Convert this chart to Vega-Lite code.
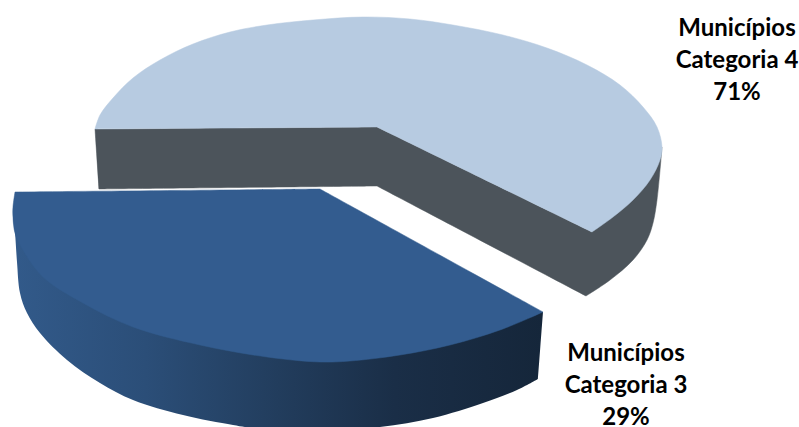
{
"$schema":"https://vega.github.io/schema/vega-lite/v6.json",
"width":799,"height":427,"padding":0,
"autosize":{"type":"none"},
"background":"white",
"config":{"view":{"stroke":null}},
"datasets":{
"side4":[{"i":1,"x":95,"y":129},{"i":2,"x":95,"y":129},{"i":3,"x":95,"y":129},{"i":4,"x":99,"y":189},{"i":5,"x":99,"y":189},{"i":6,"x":99,"y":189},{"i":7,"x":377,"y":186},{"i":8,"x":377,"y":186},{"i":9,"x":377,"y":186},{"i":10,"x":586,"y":296},{"i":11,"x":586,"y":296},{"i":12,"x":586,"y":296},{"i":13,"x":610,"y":280},{"i":14,"x":633,"y":260},{"i":15,"x":647,"y":240},{"i":16,"x":653,"y":223},{"i":17,"x":657,"y":200},{"i":18,"x":662,"y":147},{"i":19,"x":662,"y":147},{"i":20,"x":662,"y":147},{"i":21,"x":592,"y":232},{"i":22,"x":592,"y":232},{"i":23,"x":592,"y":232},{"i":24,"x":377,"y":127},{"i":25,"x":377,"y":127},{"i":26,"x":377,"y":127}],
"top4":[{"i":1,"x":95,"y":129},{"i":2,"x":95,"y":129},{"i":3,"x":95,"y":129},{"i":4,"x":100,"y":115},{"i":5,"x":113,"y":98},{"i":6,"x":133,"y":78},{"i":7,"x":160,"y":60},{"i":8,"x":193,"y":44},{"i":9,"x":230,"y":32},{"i":10,"x":267,"y":25},{"i":11,"x":313,"y":20},{"i":12,"x":363,"y":17},{"i":13,"x":410,"y":19},{"i":14,"x":453,"y":25},{"i":15,"x":503,"y":35},{"i":16,"x":547,"y":48},{"i":17,"x":587,"y":65},{"i":18,"x":620,"y":85},{"i":19,"x":643,"y":107},{"i":20,"x":657,"y":127},{"i":21,"x":662,"y":147},{"i":22,"x":660,"y":160},{"i":23,"x":650,"y":180},{"i":24,"x":633,"y":200},{"i":25,"x":613,"y":217},{"i":26,"x":592,"y":232},{"i":27,"x":592,"y":232},{"i":28,"x":592,"y":232},{"i":29,"x":377,"y":127},{"i":30,"x":377,"y":127},{"i":31,"x":377,"y":127},{"i":32,"x":95,"y":129},{"i":33,"x":95,"y":129}],
"side3":[{"i":1,"x":13,"y":207},{"i":2,"x":13,"y":207},{"i":3,"x":13,"y":217},{"i":4,"x":15,"y":233},{"i":5,"x":17,"y":262},{"i":6,"x":20,"y":293},{"i":7,"x":27,"y":313},{"i":8,"x":40,"y":333},{"i":9,"x":67,"y":360},{"i":10,"x":100,"y":383},{"i":11,"x":133,"y":400},{"i":12,"x":183,"y":415},{"i":13,"x":233,"y":425},{"i":14,"x":253,"y":428},{"i":15,"x":320,"y":432},{"i":16,"x":380,"y":427},{"i":17,"x":433,"y":418},{"i":18,"x":483,"y":403},{"i":19,"x":517,"y":390},{"i":20,"x":538,"y":379},{"i":21,"x":538,"y":379},{"i":22,"x":538,"y":379},{"i":23,"x":543,"y":312},{"i":24,"x":543,"y":312},{"i":25,"x":543,"y":312},{"i":26,"x":300,"y":300},{"i":27,"x":300,"y":300}],
"top3":[{"i":1,"x":15,"y":192},{"i":2,"x":15,"y":192},{"i":3,"x":15,"y":192},{"i":4,"x":320,"y":189},{"i":5,"x":320,"y":189},{"i":6,"x":320,"y":189},{"i":7,"x":543,"y":312},{"i":8,"x":543,"y":312},{"i":9,"x":543,"y":312},{"i":10,"x":500,"y":330},{"i":11,"x":450,"y":345},{"i":12,"x":400,"y":355},{"i":13,"x":350,"y":361},{"i":14,"x":320,"y":362},{"i":15,"x":267,"y":357},{"i":16,"x":200,"y":345},{"i":17,"x":133,"y":327},{"i":18,"x":83,"y":303},{"i":19,"x":43,"y":277},{"i":20,"x":23,"y":250},{"i":21,"x":15,"y":233},{"i":22,"x":13,"y":217},{"i":23,"x":13,"y":207},{"i":24,"x":15,"y":192},{"i":25,"x":15,"y":192}],
"labels":[{"label":"Municípios\nCategoria 4\n71%","x":737,"y":29},{"label":"Municípios\nCategoria 3\n29%","x":626,"y":354}]
},
"encoding":{
"x":{"field":"x","type":"quantitative","scale":{"domain":[0,799],"nice":false,"zero":false},"axis":null},
"y":{"field":"y","type":"quantitative","scale":{"domain":[427,0],"nice":false,"zero":false},"axis":null}
},
"layer":[
{"data":{"name":"side4"},"mark":{"type":"line","interpolate":"catmull-rom","fill":"#4C545B","stroke":"#4C545B","strokeWidth":0.5,"clip":true},"encoding":{"order":{"field":"i","type":"quantitative"}}},
{"data":{"name":"top4"},"mark":{"type":"line","interpolate":"catmull-rom","fill":"#B7CBE1","stroke":"#B7CBE1","strokeWidth":0.5,"clip":true},"encoding":{"order":{"field":"i","type":"quantitative"}}},
{"data":{"name":"side3"},"mark":{"type":"line","interpolate":"catmull-rom","stroke":null,"clip":true,"fill":{"gradient":"linear","x1":0,"x2":1,"y1":0,"y2":0,"stops":[{"offset":0,"color":"#325A8A"},{"offset":0.25,"color":"#2B4E78"},{"offset":0.5,"color":"#223D5D"},{"offset":0.72,"color":"#1A2E47"},{"offset":1,"color":"#15263A"}]}},"encoding":{"order":{"field":"i","type":"quantitative"}}},
{"data":{"name":"top3"},"mark":{"type":"line","interpolate":"catmull-rom","fill":"#335C8F","stroke":"#335C8F","strokeWidth":0.5,"clip":true},"encoding":{"order":{"field":"i","type":"quantitative"}}},
{"data":{"name":"labels"},"mark":{"type":"text","font":"Lato","fontWeight":"bold","fontSize":24,"lineBreak":"\n","lineHeight":32,"align":"center","baseline":"middle","color":"#000000"},"encoding":{"text":{"field":"label","type":"nominal"}}}
]
}
